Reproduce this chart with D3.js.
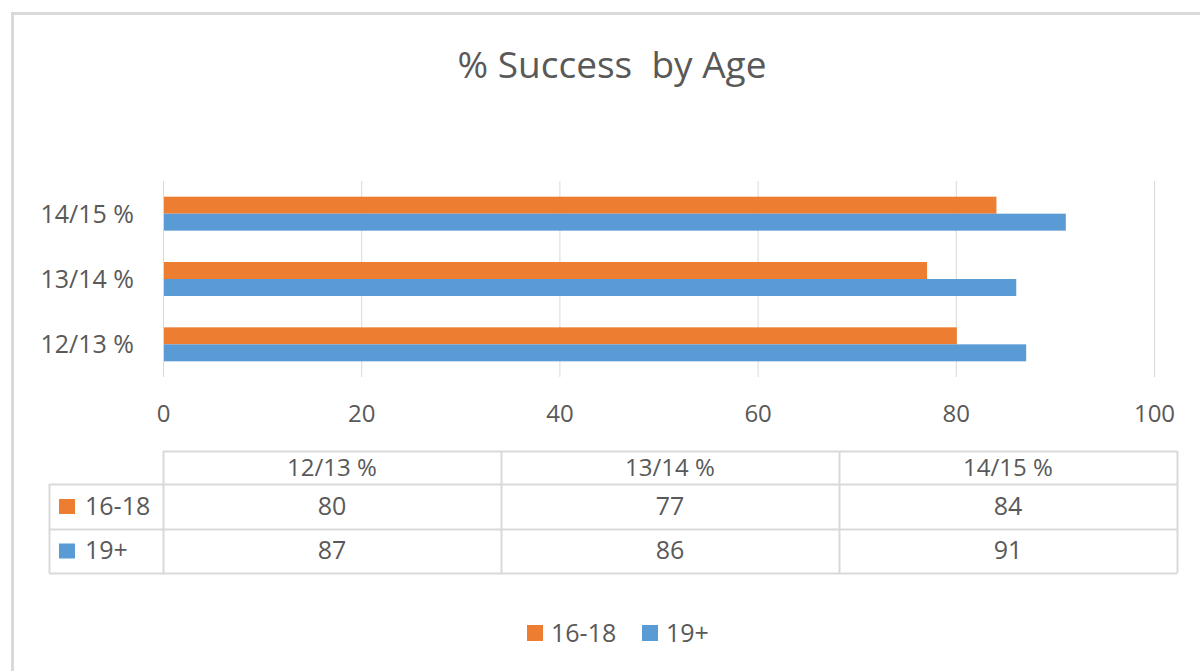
<!DOCTYPE html>
<html>
<head>
<meta charset="utf-8">
<script src="https://cdn.jsdelivr.net/npm/d3@7"></script>
<style>
  body { margin: 0; background: #fff; }
  svg text { font-family: "Open Sans", sans-serif; fill: #595959; }
</style>
</head>
<body>
<div id="chart"></div>
<script>
// data
var categories = ["12/13 %", "13/14 %", "14/15 %"];
var series = ["16-18", "19+"];
var values1618 = [80, 77, 84];
var values19 = [87, 86, 91];
var xTicks = [0, 20, 40, 60, 80, 100];

var colors = { "16-18": "#ED7D31", "19+": "#5B9BD5" };

var width = 1200, height = 671;

var svg = d3.select("#chart").append("svg")
  .attr("width", width)
  .attr("height", height);

// chart frame (right and bottom edges fall outside the picture)
svg.append("rect")
  .attr("x", 12.5).attr("y", 13.5)
  .attr("width", 1300).attr("height", 800)
  .attr("fill", "none")
  .attr("stroke", "#d9d9d9")
  .attr("stroke-width", 3);

svg.append("text")
  .attr("x", 612)
  .attr("y", 78)
  .attr("text-anchor", "middle")
  .style("font-size", "37px")
  .style("white-space", "pre")
  .text("% Success  by Age");

var rows = categories.map(function(c, i) {
  return { cat: c, "16-18": values1618[i], "19+": values19[i] };
});

var x = d3.scaleLinear().domain([0, 100]).range([163, 1154]);

var y0 = d3.scaleBand()
  .domain(categories.slice().reverse())
  .range([181, 377])
  .paddingInner(0.48)
  .paddingOuter(0.24);

var y1 = d3.scaleBand()
  .domain(series)
  .range([0, y0.bandwidth()]);

// gridlines
svg.append("g")
  .selectAll("line")
  .data(xTicks)
  .enter()
  .append("line")
  .attr("x1", function(d) { return x(d) + 0.5; })
  .attr("x2", function(d) { return x(d) + 0.5; })
  .attr("y1", 181)
  .attr("y2", 377)
  .attr("stroke", "#d9d9d9")
  .attr("stroke-width", 1);

// x axis labels
var xAxis = svg.append("g")
  .attr("transform", "translate(0,422)")
  .call(d3.axisBottom(x).tickValues(xTicks).tickSize(0).tickPadding(0));
xAxis.select(".domain").remove();
xAxis.selectAll("text")
  .attr("dy", 0)
  .attr("y", 0)
  .style("font-size", "24px")
  .attr("fill", "#595959");

// y axis labels
var yAxis = svg.append("g")
  .attr("transform", "translate(134,0)")
  .call(d3.axisLeft(y0).tickSize(0).tickPadding(0));
yAxis.select(".domain").remove();
yAxis.selectAll("text")
  .attr("dy", "0.36em")
  .style("font-size", "25px")
  .attr("fill", "#595959");

// bars
var groups = svg.append("g")
  .selectAll("g")
  .data(rows)
  .enter()
  .append("g")
  .attr("transform", function(d) { return "translate(0," + y0(d.cat) + ")"; });

groups.selectAll("rect")
  .data(function(d) { return series.map(function(s) { return { key: s, value: d[s] }; }); })
  .enter()
  .append("rect")
  .attr("x", x(0) + 1)
  .attr("y", function(d) { return y1(d.key); })
  .attr("width", function(d) { return x(d.value) - x(0); })
  .attr("height", y1.bandwidth())
  .attr("fill", function(d) { return colors[d.key]; });

// data table
var colX = d3.scaleBand().domain(categories).range([163, 1177]);
var tableLeft = 49;
var rowEdges = [451, 484, 529, 573];
var lineColor = "#d9d9d9";
var table = svg.append("g");

// horizontal lines
table.append("line")
  .attr("x1", 163).attr("x2", 1177).attr("y1", rowEdges[0] + 0.5).attr("y2", rowEdges[0] + 0.5);
rowEdges.slice(1).forEach(function(yy) {
  table.append("line")
    .attr("x1", tableLeft).attr("x2", 1177).attr("y1", yy + 0.5).attr("y2", yy + 0.5);
});
// vertical lines
table.append("line")
  .attr("x1", tableLeft + 0.5).attr("x2", tableLeft + 0.5).attr("y1", rowEdges[1]).attr("y2", rowEdges[3]);
categories.forEach(function(c) {
  table.append("line")
    .attr("x1", colX(c) + 0.5).attr("x2", colX(c) + 0.5).attr("y1", rowEdges[0]).attr("y2", rowEdges[3]);
});
table.append("line")
  .attr("x1", 1177.5).attr("x2", 1177.5).attr("y1", rowEdges[0]).attr("y2", rowEdges[3]);
table.selectAll("line").attr("stroke", lineColor).attr("stroke-width", 2);

// header
table.selectAll(".head")
  .data(categories)
  .enter()
  .append("text")
  .attr("class", "head")
  .attr("x", function(d) { return colX(d) + colX.bandwidth() / 2; })
  .attr("y", 476)
  .attr("text-anchor", "middle")
  .style("font-size", "24px")
  .text(function(d) { return d; });

var seriesValues = [values1618, values19];
var rowBase = [515, 559];
series.forEach(function(s, i) {
  var mid = (rowEdges[i + 1] + rowEdges[i + 2]) / 2;
  table.append("rect")
    .attr("x", 59).attr("y", mid - 7.5)
    .attr("width", 16).attr("height", 15)
    .attr("fill", colors[s]);
  table.append("text")
    .attr("x", 85).attr("y", rowBase[i])
    .style("font-size", "25px")
    .text(s);
  table.selectAll(".v" + i)
    .data(seriesValues[i])
    .enter()
    .append("text")
    .attr("class", "v" + i)
    .attr("x", function(d, j) { return colX(categories[j]) + colX.bandwidth() / 2; })
    .attr("y", rowBase[i])
    .attr("text-anchor", "middle")
    .style("font-size", "25px")
    .text(function(d) { return d; });
});

// legend
var legendItems = [{ key: "16-18", x: 527 }, { key: "19+", x: 642 }];
var legend = svg.append("g");
legendItems.forEach(function(item) {
  legend.append("rect")
    .attr("x", item.x).attr("y", 625)
    .attr("width", 16).attr("height", 16)
    .attr("fill", colors[item.key]);
  legend.append("text")
    .attr("x", item.x + 24).attr("y", 642)
    .style("font-size", "25px")
    .text(item.key);
});
</script>
</body>
</html>
